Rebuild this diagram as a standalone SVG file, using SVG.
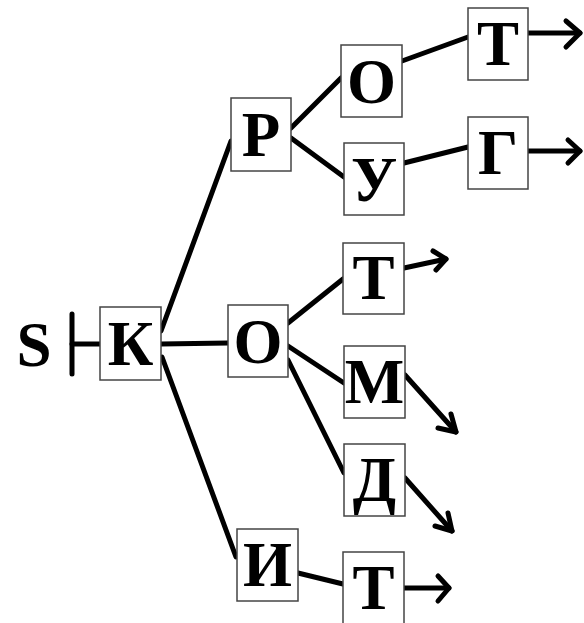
<svg xmlns="http://www.w3.org/2000/svg" width="584" height="623" viewBox="0 0 584 623">
  <defs>
    <style>
      .box { fill: #fff; stroke: #444; stroke-width: 1.5; }
      .lbl { font-family: "Liberation Serif", "Times New Roman", serif; font-weight: bold; font-size: 63px; fill: #000; text-anchor: middle; }
      .edge { stroke: #000; stroke-width: 5; fill: none; stroke-linecap: round; }
      .head { stroke: #000; stroke-width: 5; fill: none; stroke-linecap: round; stroke-linejoin: round; }
    </style>
  </defs>
  <rect width="584" height="623" fill="#fff"/>

  <!-- connectors -->
  <g id="connectors">
    <!-- start marker -->
    <line class="edge" x1="72" y1="314" x2="72" y2="374" stroke-linecap="butt"/>
    <line class="edge" x1="72" y1="344" x2="100" y2="344" stroke-linecap="butt"/>
    <!-- from K -->
    <line class="edge" x1="161" y1="331" x2="231" y2="141"/>
    <line class="edge" x1="161" y1="344" x2="228" y2="343"/>
    <line class="edge" x1="162" y1="357" x2="236" y2="557"/>
    <!-- from P -->
    <line class="edge" x1="291" y1="128" x2="341" y2="78"/>
    <line class="edge" x1="291" y1="138" x2="344" y2="177"/>
    <!-- top row -->
    <line class="edge" x1="402" y1="61" x2="468" y2="37"/>
    <line class="edge" x1="404" y1="163" x2="468" y2="147"/>
    <!-- from middle O -->
    <line class="edge" x1="288" y1="323" x2="343" y2="279"/>
    <line class="edge" x1="288" y1="346" x2="344" y2="383"/>
    <line class="edge" x1="288" y1="360" x2="344" y2="473"/>
    <!-- from И -->
    <line class="edge" x1="298" y1="573" x2="343" y2="584"/>

    <!-- outgoing arrows -->
    <line class="edge" x1="528" y1="33" x2="580" y2="33" stroke-linecap="butt"/>
    <polyline class="head" points="566,21 580,33 566,47"/>
    <line class="edge" x1="528" y1="151" x2="580" y2="151" stroke-linecap="butt"/>
    <polyline class="head" points="568,140 580,151 568,163"/>
    <line class="edge" x1="404" y1="268" x2="446" y2="259"/>
    <polyline class="head" points="433,251 446,259 436,270"/>
    <line class="edge" x1="405" y1="375" x2="456" y2="432"/>
    <polyline class="head" points="451,414 456,432 438,428"/>
    <line class="edge" x1="405" y1="478" x2="452" y2="531"/>
    <polyline class="head" points="448,513 452,531 435,526"/>
    <line class="edge" x1="404" y1="588" x2="449" y2="588" stroke-linecap="butt"/>
    <polyline class="head" points="438,576 449,588 438,601"/>
  </g>

  <text class="lbl" x="34" y="366">S</text>

  <g id="n-k"><rect class="box" x="100" y="307" width="61" height="73"/><text class="lbl" x="130.5" y="365">К</text></g>
  <g id="n-o-mid"><rect class="box" x="228" y="305" width="60" height="72"/><text class="lbl" x="258" y="363">О</text></g>
  <g id="n-r"><rect class="box" x="231" y="98" width="60" height="73"/><text class="lbl" x="261" y="156">Р</text></g>
  <g id="n-o-top"><rect class="box" x="341" y="45" width="61" height="72"/><text class="lbl" x="371.5" y="103">О</text></g>
  <g id="n-u"><rect class="box" x="344" y="143" width="60" height="72"/><text class="lbl" x="374" y="201">У</text></g>
  <g id="n-t-top"><rect class="box" x="468" y="8" width="60" height="72"/><text class="lbl" x="498" y="65">Т</text></g>
  <g id="n-g"><rect class="box" x="468" y="117" width="60" height="72"/><text class="lbl" x="498" y="174">Г</text></g>
  <g id="n-t-mid"><rect class="box" x="343" y="243" width="61" height="71"/><text class="lbl" x="373.5" y="299">Т</text></g>
  <g id="n-m"><rect class="box" x="344" y="346" width="61" height="72"/><text class="lbl" x="374.5" y="403">М</text></g>
  <g id="n-d"><rect class="box" x="344" y="444" width="61" height="72"/><text class="lbl" x="374.5" y="501">Д</text></g>
  <g id="n-i"><rect class="box" x="237" y="529" width="61" height="72"/><text class="lbl" x="267.5" y="586">И</text></g>
  <g id="n-t-bot"><rect class="box" x="343" y="552" width="61" height="73"/><text class="lbl" x="373.5" y="609">Т</text></g>
</svg>
